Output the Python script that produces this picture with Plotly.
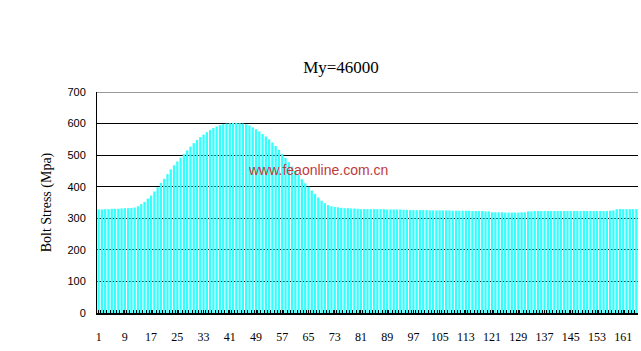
import plotly.graph_objects as go

categories = list(range(1, 166))
stress = [
    328, 328, 329, 329, 330, 330, 330, 331,
    332, 332, 333, 334,
    338, 345, 352, 362, 372, 385, 398, 412,
    425, 440, 455, 468, 480, 492, 503, 515,
    527, 538, 548, 557, 565, 573, 580, 586,
    591, 595, 598, 600, 601, 602, 602, 601,
    600, 598, 594, 588, 582, 575, 567, 559,
    550, 540, 529, 517, 504, 491, 478, 464,
    450, 437, 424, 411, 400, 388, 377, 366,
    356, 348, 342, 338, 336, 335, 333, 332,
    332, 331, 331, 330, 329, 329, 329, 329,
    329, 329, 329, 329, 328, 328, 328, 328,
    328, 327, 327, 326, 326, 326, 326, 326,
    326, 325, 325, 325, 325, 325, 325, 325,
    324, 324, 324, 324, 324, 324, 323, 323,
    323, 323, 322, 322, 319, 319, 319, 319,
    318, 318, 318, 318, 318, 319, 319, 322,
    322, 323, 323, 323, 323, 323, 323, 323,
    323, 323, 323, 323, 323, 323, 323, 323,
    323, 323, 323, 323, 323, 323, 323, 323,
    324, 325, 329, 329, 329, 329, 329, 329,
    329,
]
x_tickvals = list(range(1, 166, 8))
y_tickvals = [0, 100, 200, 300, 400, 500, 600, 700]

fig = go.Figure()
fig.add_trace(go.Bar(x=categories, y=stress, marker=dict(color="#33FFFF", line=dict(width=0))))

fig.update_layout(
    width=641, height=351,
    margin=dict(l=97, r=3, t=92, b=38),
    paper_bgcolor="white", plot_bgcolor="white",
    bargap=0.3,
    showlegend=False,
    title=dict(text="My=46000", x=341/641, xanchor="center", y=1-67/351, yanchor="middle",
               font=dict(family="Liberation Serif", size=17, color="black")),
    xaxis=dict(
        range=[0.5, 165.5], tickmode="array", tickvals=x_tickvals,
        ticktext=[str(v) for v in x_tickvals],
        showgrid=False, zeroline=False,
        showline=True, linecolor="black", linewidth=2,
        ticks="inside", ticklen=3, tickcolor="black",
        minor=dict(dtick=1, tick0=0.5, ticks="inside", ticklen=3, tickcolor="black", showgrid=False),
        ticklabelstandoff=12,
        tickfont=dict(family="Liberation Serif", size=12, color="black"),
    ),
    yaxis=dict(
        range=[0, 700], tickmode="array", tickvals=y_tickvals,
        showgrid=True, gridcolor="black", gridwidth=1,
        zeroline=False, showline=True, linecolor="black", linewidth=1,
        ticks="", ticklabelstandoff=8,
        tickfont=dict(family="Liberation Sans", size=11, color="black"),
        title=dict(text="Bolt Stress (Mpa)", standoff=12,
                   font=dict(family="Liberation Serif", size=14, color="black")),
    ),
    shapes=[dict(type="line", xref="paper", x0=0, x1=1, yref="y", y0=700, y1=700,
                 line=dict(color="#999999", width=2))],
    annotations=[dict(text="www.feaonline.com.cn", xref="paper", yref="paper",
                      x=(318-97)/541, y=(313-170)/221, xanchor="center", yanchor="middle",
                      showarrow=False, font=dict(family="Liberation Sans", size=14, color="#C0393B"))],
)

fig.write_html("out.html")
